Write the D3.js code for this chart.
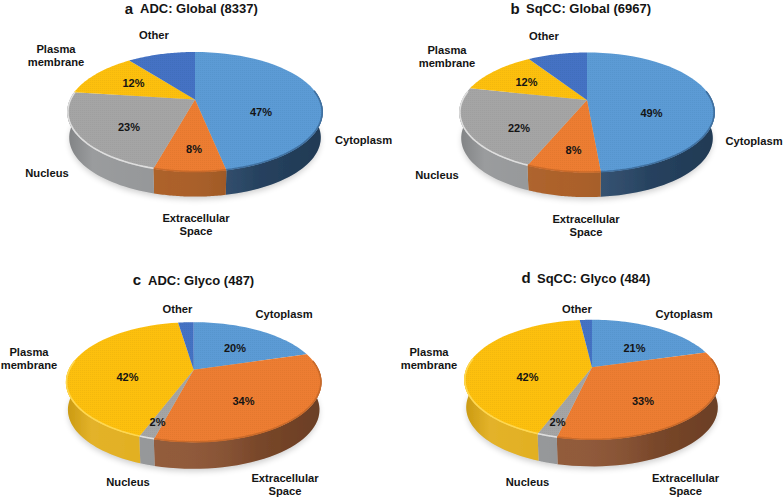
<!DOCTYPE html>
<html>
<head>
<meta charset="utf-8">
<script src="https://d3js.org/d3.v7.min.js"></script>
<style>
  html, body { margin: 0; padding: 0; background: #fff; }
  svg { display: block; }
  text { font-family: "Liberation Sans", Arial, sans-serif; font-weight: bold; fill: #141414; }
</style>
</head>
<body>
<svg id="chart" width="784" height="498"></svg>
<script>
const categories = ["Cytoplasm", "Extracellular Space", "Nucleus", "Plasma membrane", "Other"];

// shares, printed rounded
const adcGlobal = [46.8, 7.5, 22.8, 12.4, 10.5];
const sqccGlobal = [48.6, 7.7, 22.1, 12.4, 9.2];
const adcGlyco = [20.4, 33.7, 1.6, 41.9, 2.4];
const sqccGlyco = [20.6, 33.0, 2.1, 42.4, 1.9];

const panelLetters = ["a", "b", "c", "d"];
const panelTitles = ["ADC: Global (8337)", "SqCC: Global (6967)", "ADC: Glyco (487)", "SqCC: Glyco (484)"];

const topColors = ["#5b9bd5", "#ed7d31", "#a5a5a5", "#fdc010", "#4472c4"];
const rimColors = ["#3f6f9f", "#c96a2a", "#dedede", "#ffd850", "#3a5f9f"];

// layout of each panel: pie centre, radii, wall depth, title and label places
const layouts = [
  { cx: 195, cy: 99.5, rx: 125, ry: 57.4, depth: 26, letterX: 129, letterY: 14, titleX: 140, titleY: 13,
    wall: ["#2c4c6e", "#a8591f", "#8f9193", "#e0aa12", "#2c4c8e"],
    labels: [[363.5, [144]], [196, [222, 235]], [47, [177]], [56, [53, 66]], [154, [39]]],
    pct: [[261, 112], [194, 149], [129, 127], [133.5, 83]] },
  { cx: 587, cy: 100, rx: 125, ry: 57.4, depth: 26, letterX: 515, letterY: 14, titleX: 526, titleY: 13,
    wall: ["#2c4c6e", "#a8591f", "#8f9193", "#e0aa12", "#2c4c8e"],
    labels: [[754, [145]], [586, [223, 236]], [437, [179]], [447, [54, 67]], [544, [40]]],
    pct: [[651.5, 113], [573.5, 150], [519, 127.5], [526.5, 81.5]] },
  { cx: 193.7, cy: 369.7, rx: 125, ry: 57.4, depth: 28, letterX: 137, letterY: 285, titleX: 148, titleY: 285,
    wall: ["#2c4c6e", "#8c5230", "#8f9193", "#e0aa12", "#2c4c8e"],
    labels: [[284, [318]], [285, [481.5, 494.5]], [128, [486]], [29, [356, 368.5]], [177.5, [312.5]]],
    pct: [[235, 347.5], [243.5, 400.5], [157.5, 421.5], [127.5, 376.5]] },
  { cx: 592, cy: 367.3, rx: 125, ry: 57.4, depth: 28, letterX: 526, letterY: 283, titleX: 537, titleY: 283,
    wall: ["#2c4c6e", "#8c5230", "#8f9193", "#e0aa12", "#2c4c8e"],
    labels: [[684, [318]], [685.5, [481.5, 494.5]], [527.5, [486]], [429, [356, 368.5]], [577, [312.5]]],
    pct: [[634.5, 347.5], [643, 400.5], [557.5, 421.5], [527.5, 376.5]] }
];

const panelValues = [adcGlobal, sqccGlobal, adcGlyco, sqccGlyco];
const tilt = 0.208;

const svg = d3.select("#chart");
const defs = svg.append("defs");

defs.append("filter").attr("id", "soft")
  .append("feGaussianBlur").attr("stdDeviation", 0.45);
defs.append("filter").attr("id", "shadow")
  .attr("x", "-20%").attr("y", "-20%").attr("width", "140%").attr("height", "140%")
  .append("feGaussianBlur").attr("stdDeviation", 3);

const grain = defs.append("pattern").attr("id", "grain")
  .attr("width", 2).attr("height", 2).attr("patternUnits", "userSpaceOnUse");
grain.append("circle").attr("cx", 0.6).attr("cy", 0.6).attr("r", 0.45).attr("fill", "#000").attr("opacity", 0.09);

const wallShade = defs.append("linearGradient").attr("id", "wallShade");
[[0, "#000", 0.1], [0.1, "#fff", 0.1], [0.4, "#fff", 0.05], [0.75, "#000", 0.14], [1, "#000", 0.24]].forEach(s => {
  wallShade.append("stop").attr("offset", s[0]).attr("stop-color", s[1]).attr("stop-opacity", s[2]);
});

const pie = d3.pie().sort(null).value(d => d);

const drawPanel = (layout, values, letter, title) => {
  // a point of the disc: angle clockwise from the top, radius as a fraction
  const project = (angle, radius = 1, drop = 0, shrink = 1) => {
    const u = Math.sin(angle) * radius * shrink;
    const v = -Math.cos(angle) * radius * shrink;
    const w = 1 - tilt * v;
    return [layout.cx + layout.rx * u / w, layout.cy + layout.ry * v / w + drop];
  };
  const sweep = (a0, a1, radius, drop, shrink) =>
    d3.range(0, 41).map(i => project(a0 + (a1 - a0) * i / 40, radius, drop, shrink));
  const line = d3.line();

  const g = svg.append("g");
  const arcs = pie(values);
  const frontStart = Math.PI * 0.45;
  const frontEnd = Math.PI * 1.55;

  // soft shadow under the disc
  g.append("path")
    .attr("d", line(sweep(0, 2 * Math.PI, 1, layout.depth + 3, 0.98)) + "Z")
    .attr("fill", "#000").attr("opacity", 0.2).attr("filter", "url(#shadow)");

  const marks = g.append("g").attr("filter", "url(#soft)");

  // side wall, only the part of each slice facing the viewer
  const wallPath = (a0, a1) =>
    line(sweep(a0, a1, 1, 0, 1).concat(sweep(a0, a1, 1, layout.depth, 0.985).reverse())) + "Z";

  arcs.forEach((d, i) => {
    const a0 = Math.max(d.startAngle, frontStart);
    const a1 = Math.min(d.endAngle, frontEnd);
    if (a1 <= a0) return;
    marks.append("path").attr("d", wallPath(a0, a1)).attr("fill", layout.wall[i]);
  });
  marks.append("path").attr("d", wallPath(frontStart, frontEnd)).attr("fill", "url(#wallShade)");

  // top face
  arcs.forEach((d, i) => {
    const outline = sweep(d.startAngle, d.endAngle, 1, 0, 1);
    marks.append("path")
      .attr("d", line([[layout.cx, layout.cy]].concat(outline)) + "Z")
      .attr("fill", topColors[i]);
    marks.append("path")
      .attr("d", line([[layout.cx, layout.cy]].concat(outline)) + "Z")
      .attr("fill", "url(#grain)");
  });

  // bevel along the front rim
  arcs.forEach((d, i) => {
    const a0 = Math.max(d.startAngle, frontStart);
    const a1 = Math.min(d.endAngle, frontEnd);
    if (a1 <= a0) return;
    marks.append("path")
      .attr("d", line(sweep(a0, a1, 0.995, 0, 1)))
      .attr("fill", "none").attr("stroke", rimColors[i]).attr("stroke-width", 1.6);
  });

  // percentages, Other has none
  layout.pct.forEach((place, i) => {
    g.append("text")
      .attr("x", place[0]).attr("y", place[1] + 4)
      .attr("text-anchor", "middle")
      .attr("font-size", 11)
      .text(`${Math.round(values[i])}%`);
  });

  // category names, broken on two lines where the picture does
  categories.forEach((name, i) => {
    const place = layout.labels[i];
    const parts = place[1].length > 1 ? name.split(" ") : [name];
    parts.forEach((part, j) => {
      g.append("text")
        .attr("x", place[0]).attr("y", place[1][j])
        .attr("text-anchor", "middle")
        .attr("font-size", 11.2)
        .text(part);
    });
  });

  g.append("text")
    .attr("x", layout.letterX).attr("y", layout.letterY)
    .attr("text-anchor", "middle")
    .attr("font-size", 15)
    .text(letter);
  g.append("text")
    .attr("x", layout.titleX).attr("y", layout.titleY)
    .attr("font-size", 13)
    .text(title);
};

layouts.forEach((layout, i) => drawPanel(layout, panelValues[i], panelLetters[i], panelTitles[i]));
</script>
</body>
</html>
